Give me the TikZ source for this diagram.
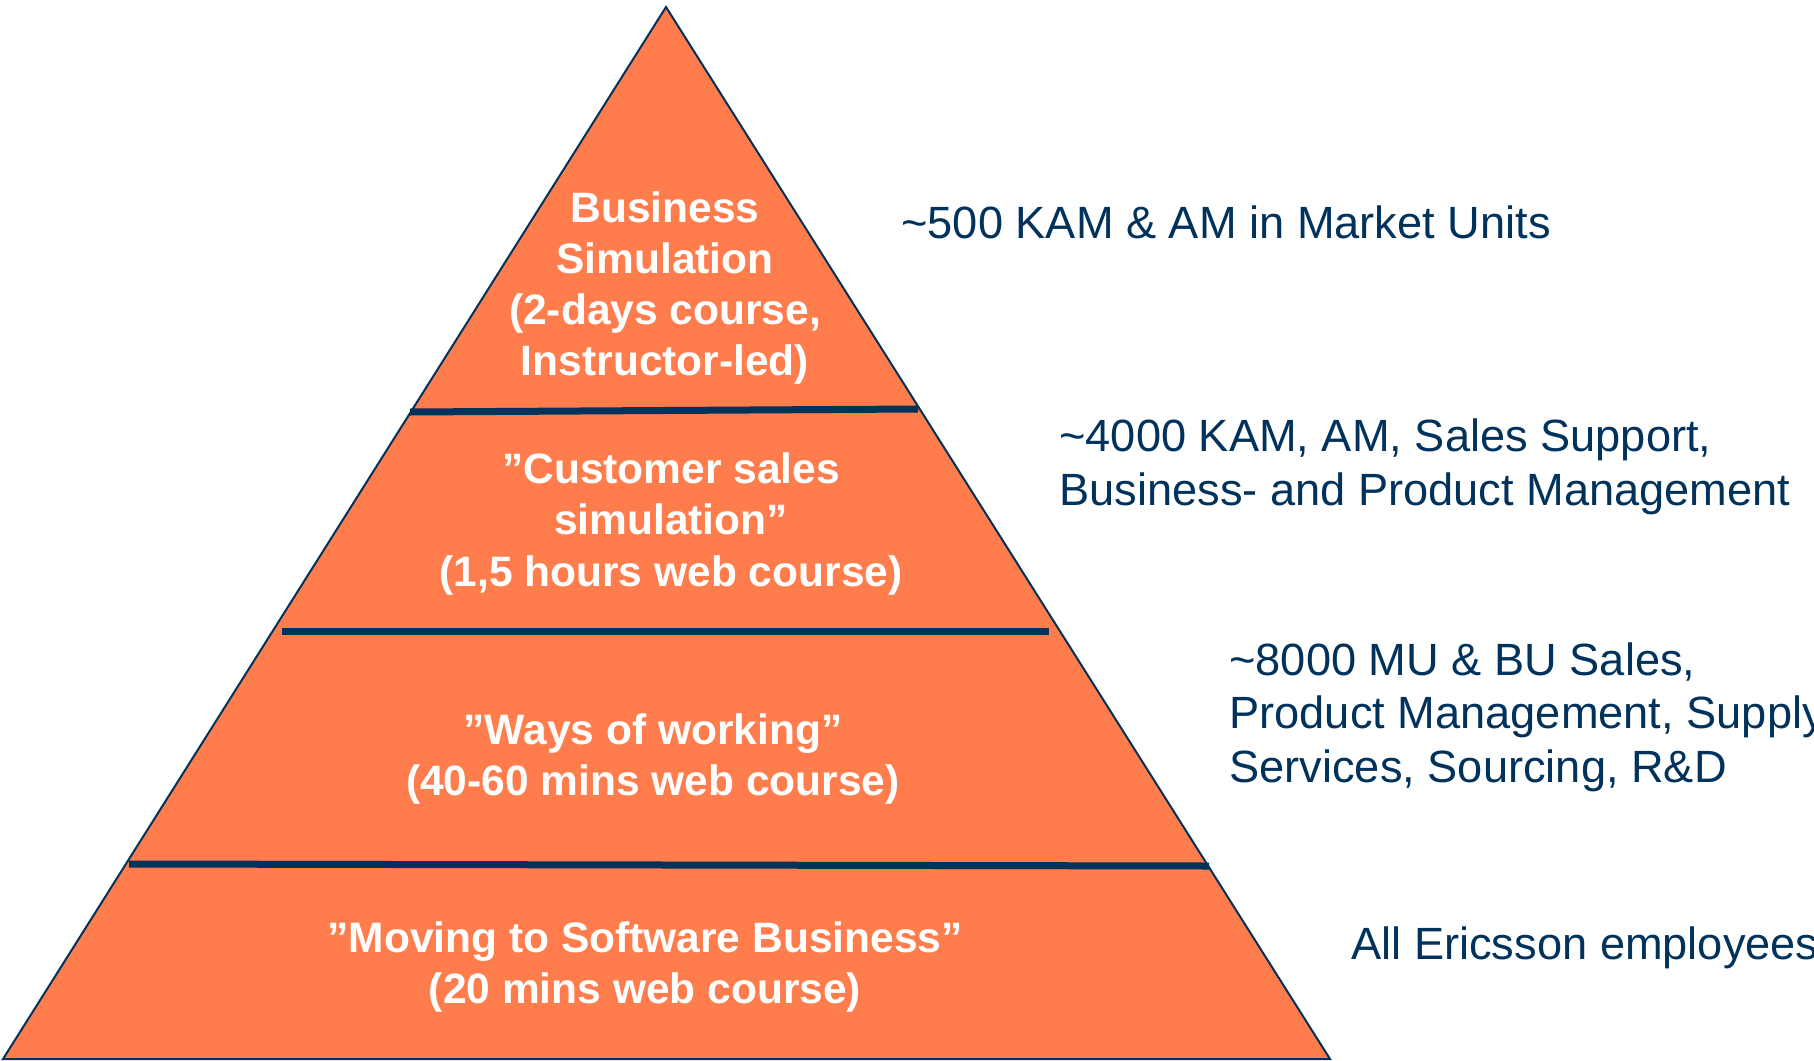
\documentclass[tikz,border=0pt]{standalone}
\usepackage{fontspec}
\setmainfont{Liberation Sans}
\definecolor{pyrfill}{HTML}{FF7C4C}
\definecolor{navy}{HTML}{00325C}
\begin{document}
\begin{tikzpicture}[x=0.5pt,y=-0.5pt,
  tier/.style={text=white, inner sep=0pt, align=center,
    font=\fontsize{21.25pt}{25.6pt}\selectfont\bfseries},
  audience/.style={text=navy, inner sep=0pt, align=left, anchor=west,
    font=\fontsize{22.6pt}{26.8pt}\selectfont},
  divider/.style={draw=navy, line width=3.5pt}]
\useasboundingbox (0,0) rectangle (1814,1060);

% pyramid outline
\coordinate (apex) at (666,7);
\coordinate (bl) at (3,1059);
\coordinate (br) at (1330,1059);
\filldraw[fill=pyrfill, draw=navy, line width=1pt] (apex) -- (br) -- (bl) -- cycle;

% tier separators
\coordinate (d1l) at (410,412);
\coordinate (d1r) at (918,409);
\coordinate (d2l) at (282,631);
\coordinate (d2r) at (1049,631);
\coordinate (d3l) at (129,864);
\coordinate (d3r) at (1209,866);
\draw[divider] (d1l) -- (d1r);
\draw[divider] (d2l) -- (d2r);
\draw[divider] (d3l) -- (d3r);

% course names inside the tiers
\node[tier] (t1) at (665,288) {Business\\Simulation\\(2-days course,\\Instructor-led)};
\node[tier] (t2) at (671,524) {”Customer sales\\simulation”\\(1,5 hours web course)};
\node[tier] (t3) at (653,759) {”Ways of working”\\(40-60 mins web course)};
\node[tier] (t4) at (645,967) {”Moving to Software Business”\\(20 mins web course)};

% target audiences
\node[audience] (a1) at (901,222) {\textasciitilde500 KAM \& AM in Market Units};
\node[audience] (a2) at (1059,467) {\textasciitilde4000 KAM, AM, Sales Support,\\Business- and Product Management};
\node[audience] (a3) at (1229,717) {\textasciitilde8000 MU \& BU Sales,\\Product Management, Supply\\Services, Sourcing, R\&D};
\node[audience] (a4) at (1351,948) {All Ericsson employees};
\end{tikzpicture}
\end{document}
